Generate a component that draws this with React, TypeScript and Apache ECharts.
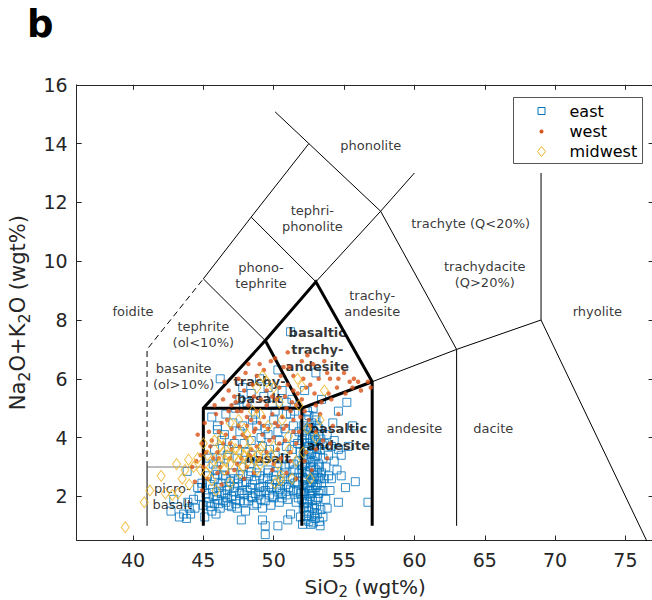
import React, { useEffect, useRef } from "react";
import * as echarts from "echarts";

// ---------- data ----------
const xTicks = [40, 45, 50, 55, 60, 65, 70, 75];
const yTicks = [2, 4, 6, 8, 10, 12, 14, 16];

const eastPts: number[][] = [
  [45.2,2.1],[45.4,1.8],[45.5,2.4],[45.7,2.0],[45.8,2.6],[46.0,1.9],[46.1,2.3],[46.3,2.1],[46.4,2.7],[46.6,1.8],
  [46.7,2.2],[46.9,2.5],[47.0,2.0],[47.2,2.3],[47.3,1.9],[47.5,2.6],[47.6,2.1],[47.8,2.4],[47.9,1.8],[48.1,2.2],
  [48.2,2.7],[48.4,2.0],[48.5,2.4],[48.7,2.1],[48.8,2.8],[49.0,2.3],[49.1,1.9],[49.3,2.6],[49.4,2.2],[49.6,2.9],
  [49.7,2.4],[49.9,2.0],[50.0,2.7],[50.2,2.3],[50.3,3.0],[50.5,2.5],[50.6,2.1],[50.8,2.8],[50.9,2.4],[51.1,3.1],
  [51.2,2.6],[51.4,2.2],[51.5,2.9],[51.7,2.5],[51.8,3.2],[45.3,2.7],[45.9,2.9],[46.5,3.0],[47.1,2.8],[47.7,3.0],
  [48.3,3.1],[48.9,3.2],[49.5,3.3],[50.1,3.4],[50.7,3.3],[51.3,3.6],[46.2,1.6],[46.8,1.7],[47.4,1.6],[48.0,1.5],
  [48.6,1.7],[49.2,1.6],[49.8,1.7],[50.4,1.8],[51.0,1.9],[51.6,1.8],[45.0,1.7],[44.7,2.0],[44.4,1.6],[44.1,1.4],
  [43.6,1.4],[43.3,1.3],[43.9,1.8],[42.7,1.5],[42.9,1.9],[45.6,1.5],[45.9,1.4],[47.7,1.2],[49.4,0.7],[49.4,1.0],
  [49.2,1.2],[50.3,1.0],[51.2,1.4],[51.0,1.2],[52.8,1.1],[52.5,1.15],
  [51.9,1.3],[52.1,1.6],[52.3,1.2],[52.5,1.5],[52.7,1.3],[52.9,1.6],[53.1,1.4],[52.0,1.9],[52.2,2.1],[52.4,1.8],
  [52.6,2.0],[52.8,2.2],[53.0,1.9],[53.2,2.1],[52.1,2.4],[52.3,2.6],[52.5,2.3],[52.7,2.5],[52.9,2.7],[53.1,2.4],
  [53.3,2.6],[52.0,2.9],[52.2,3.1],[52.4,2.8],[52.6,3.0],[52.8,3.2],[53.0,2.9],[53.2,3.1],[53.4,2.8],[52.1,3.4],
  [52.3,3.6],[52.5,3.3],[52.7,3.5],[52.9,3.7],[53.1,3.4],[53.3,3.6],[52.0,3.9],[52.2,4.1],[52.4,3.8],[52.6,4.0],
  [52.8,4.2],[53.0,3.9],[53.2,4.1],[52.1,4.4],[52.3,4.6],[52.5,4.3],[52.7,4.5],[52.9,4.7],[53.1,4.4],[52.4,4.9],
  [52.8,5.0],[51.8,4.2],[51.7,3.8],[51.9,3.5],[51.8,2.8],[51.9,2.1],[53.5,2.2],[53.6,3.8],[53.7,3.0],[53.9,3.4],
  [54.1,2.6],[54.3,3.9],[54.5,2.9],[54.8,3.4],[55.1,2.3],[55.3,3.7],[54.6,1.8],[53.8,1.6],[54.2,4.5],[55.6,4.4],
  [55.8,2.5],[56.7,1.8],[53.5,1.3],[53.3,1.0],
  [45.4,3.3],[45.8,3.6],[46.3,3.9],[46.7,3.4],[47.2,3.8],[47.6,4.2],[48.0,3.5],[48.4,3.9],[48.8,4.4],[49.2,3.7],
  [49.6,4.1],[50.0,4.6],[50.4,3.9],[50.8,4.3],[51.2,4.8],[51.5,4.0],[46.0,4.4],[46.6,4.8],[47.3,5.0],[48.1,5.2],
  [48.7,4.8],[49.3,5.4],[49.9,5.1],[50.6,5.6],[51.3,5.3],[47.8,5.7],[49.0,6.0],[50.3,6.3],[51.2,7.6],[46.2,6.0],
  [45.6,4.7],[53.4,5.3],[54.6,4.9],[55.2,5.2],[53.0,6.2],[52.2,5.6],
  [52.05,1.05],[52.35,1.35],[52.65,1.05],[52.95,1.25],[53.25,1.15],[52.15,1.75],[52.45,1.65],[52.75,1.85],[53.05,1.7],[53.35,1.55],
  [52.1,2.15],[52.4,2.35],[52.7,2.1],[53.0,2.3],[53.3,2.2],[52.2,2.55],[52.5,2.75],[52.8,2.6],[53.1,2.8],[53.4,2.45],
  [52.05,3.05],[52.35,3.25],[52.65,3.15],[52.95,3.35],[53.25,3.0],[52.15,3.55],[52.45,3.7],[52.75,3.85],[53.05,3.6],[53.35,3.95],
  [52.3,4.25],[52.6,4.35],[52.9,4.05],[53.2,4.3],[52.5,4.75],[53.0,4.6],[52.2,3.95],[52.6,2.45],[52.9,1.45],[53.2,2.65],
  [53.5,3.3],[53.6,2.6],[53.8,4.1],[53.7,1.9],[54.0,2.2],[54.3,3.2],[54.1,3.7],[53.9,2.7],[54.6,3.6],[54.8,2.7],
  [52.85,3.0],[52.55,2.2],[52.25,2.85],[52.95,3.95],[53.15,1.95],[52.35,1.9],[52.65,3.45],[53.45,3.75],[52.75,1.6],[52.05,2.65],
  [45.35,1.95],[45.65,2.25],[45.95,2.15],[46.25,2.45],[46.55,2.05],[46.85,2.35],[47.15,2.15],[47.45,2.45],[47.75,2.2],[48.05,2.5],
  [48.35,2.3],[48.65,2.55],[48.95,2.05],[49.25,2.35],[49.55,2.6],[49.85,2.3],[50.15,2.55],[50.45,2.25],[50.75,2.6],[51.05,2.3],
  [51.35,2.65],[51.65,2.15],[45.5,1.65],[45.8,1.75],[46.1,1.75],[46.4,1.85],[46.7,1.95],[47.0,1.65],[47.3,1.75],[47.6,1.85],
  [47.9,2.05],[48.2,1.85],[48.5,1.95],[48.8,1.75],[49.1,2.15],[49.4,1.85],[49.7,2.05],[50.0,1.95],[50.3,2.15],[50.6,1.95],
  [50.9,2.05],[51.2,2.25],[51.5,2.45],[51.75,1.95],[46.0,2.75],[46.6,2.6],[47.2,2.6],[47.8,2.75],[48.4,2.85],[49.0,2.7],
  [49.6,2.8],[50.2,2.85],[50.8,3.0],[51.4,3.1],[44.9,2.45],[44.6,2.3],[44.3,1.9],[44.0,1.6],[43.8,1.25],[45.1,1.3],
  [43.85,2.85],[44.9,2.3],
  [45.7,3.1],[46.2,3.3],[46.8,3.6],[47.4,3.3],[47.9,3.8],[48.5,3.4],[49.1,4.0],[49.7,3.6],[50.3,4.2],[50.9,3.7],
  [51.4,4.4],[46.5,4.1],[47.1,4.5],[47.8,4.4],[48.5,4.6],[49.4,4.3],[50.1,4.9],[50.9,4.8],[51.5,4.9],[46.0,4.27],
  [49.6,5.7],[48.4,5.5],[47.6,5.3],[50.9,5.2]
];

const westPts: number[][] = [
  [49.8,6.6],[50.7,6.4],[51.4,6.1],[52.1,6.0],[52.6,5.8],[53.2,6.0],[54.0,6.0],[54.6,6.0],[55.7,6.0],[56.7,5.9],
  [56.9,5.7],[55.1,5.5],[54.1,5.3],[53.4,5.2],[53.0,5.1],[52.2,4.9],[51.9,4.7],[52.5,4.6],[53.0,4.2],[51.4,4.2],
  [50.7,4.3],[50.4,3.8],[51.2,3.5],[50.1,4.5],[49.3,4.7],[48.8,4.9],[49.3,6.3],[48.8,6.1],[47.9,5.6],[47.0,5.1],
  [47.4,4.9],[48.1,4.7],[46.7,4.6],[46.1,4.2],[45.5,3.7],[44.8,3.4],[44.4,2.5],[45.0,3.0],[45.7,3.3],[46.2,3.0],
  [46.7,2.8],[47.4,3.1],[47.9,2.6],[48.3,3.4],[48.8,3.7],[49.5,3.5],[50.0,4.0],[50.5,3.3],[50.9,2.8],[49.3,4.4],
  [48.6,4.2],[47.6,3.7],[46.9,3.3],[46.0,2.8],[45.3,2.6],[50.2,5.3],[50.9,5.0],[51.4,4.6],[47.2,5.4],[46.8,5.6],
  [49.5,5.1],[50.5,6.1],[51.4,5.6],[53.5,3.9],[54.2,4.4],[53.8,3.3],[54.6,4.8],[52.4,6.8],[51.0,6.9],[53.6,6.6],
  [55.0,6.2],[52.8,6.5],[48.2,6.5],[47.5,6.0],[44.6,4.1],[45.1,4.5],[44.2,3.0],[45.8,5.1],[46.4,5.3],[48.5,5.8],
  [51.0,5.8],[52.0,5.3],[56.2,5.6],[55.6,5.7],[52.3,3.5],[52.7,2.9],[51.6,2.6],[49.9,2.9],[48.1,3.0],[47.0,4.3],
  [48.0,4.0],[44.9,2.2],[46.3,2.4],
  [45.6,3.9],[46.0,3.5],[46.4,3.8],[46.6,4.1],[46.9,3.8],[47.2,4.0],[47.5,4.4],[47.8,4.1],[48.1,4.4],[48.4,4.6],
  [48.7,4.3],[49.0,4.5],[49.2,4.1],[49.6,4.3],[49.9,4.8],[50.3,4.4],[50.6,4.7],[50.9,4.4],[51.2,4.9],[51.6,5.1],
  [46.3,4.5],[46.8,4.9],[47.3,5.2],[47.7,4.9],[48.2,5.1],[48.6,5.4],[49.1,5.3],[49.5,5.6],[49.9,5.4],[50.4,5.7],
  [50.8,5.4],[51.3,5.2],[51.7,5.5],[52.3,5.7],[45.9,4.8],[45.4,4.2],[45.2,3.5],[47.0,3.6],[48.4,3.6],[49.7,3.9],
  [50.8,3.9],[51.8,4.2],[52.6,4.4],[53.3,4.8],[53.9,5.5],[54.5,5.7],[55.4,5.9],[56.0,5.9],[53.8,6.2],[52.9,5.5],
  [48.0,6.2],[49.0,6.5],[50.1,6.7],[51.1,6.4],[52.0,6.6],[46.5,5.9],[44.9,3.8],[44.5,3.2],[47.7,3.3],[49.0,3.3],
  [50.3,3.6],[51.6,3.8],[46.1,3.3],[47.2,2.9],[48.6,2.8],[50.0,3.1],[51.2,3.2],[52.2,3.2],[53.0,3.6],[54.0,3.8]
];

const midwestPts: number[][] = [
  [39.45,0.95],[40.8,1.8],[41.2,2.2],[43.1,3.1],[43.95,3.25],[43.2,2.1],[42.8,2.05],[42.3,2.1],[45.3,3.4],[45.8,3.9],
  [46.4,3.5],[47.0,3.7],[47.2,3.35],[47.6,3.5],[48.1,3.6],[48.6,3.25],[45.6,2.55],[46.9,2.45],[49.05,3.1],[50.0,3.7],
  [50.5,2.55],[49.5,3.25],[49.05,4.8],[48.1,4.1],[46.9,4.5],[48.8,5.7],[49.5,5.9],[50.0,5.7],[46.1,3.1],[44.8,2.9],
  [52.0,5.75],[53.3,4.6],[50.1,2.45],[50.5,2.7],[51.05,4.05],[52.1,3.5],[49.05,3.6],[44.3,3.0],[46.6,3.2],[47.8,3.0],
  [48.3,3.9],[51.6,3.2],[52.6,2.6],[53.0,4.0],[50.4,5.2],[47.5,4.6],[45.9,2.2],[44.0,2.4],[42.0,2.7],[43.5,2.6],
  [45.9,3.3],[46.2,3.7],[46.7,3.4],[46.9,3.1],[47.3,3.6],[47.5,3.2],[47.9,3.4],[48.2,3.2],[48.4,3.5],[48.9,3.4],
  [49.2,3.7],[49.8,3.4],[45.5,3.0],[45.2,2.8],[46.5,2.9],[47.6,2.8],[48.8,2.9],[50.3,3.1],[51.1,3.6],[51.3,2.6],
  [47.9,4.3],[49.6,4.4],[50.6,4.6],[51.8,5.1],[46.3,4.0],[45.0,3.8],[43.7,2.9],[44.6,3.3],[52.4,4.3],[53.6,5.6],
  [51.7,6.0],[49.2,6.1],[48.5,4.9]
];

// TAS field boundaries (SiO2, Na2O+K2O)
const thinBoundaries: number[][][] = [
  [[41,1],[41,3]],
  [[45,9.4],[48.4,11.5],[52.5,14]],
  [[50.1,15.08],[52.5,14],[57.6,11.7],[63,7],[63,1]],
  [[45,9.4],[49.4,7.3]],
  [[48.4,11.5],[53,9.3],[57.6,11.7],[60,13]],
  [[57,5.9],[63,7],[69,8],[77,0]],
  [[69,8],[69,13]]
];
const greyBoundaries: number[][][] = [
  [[41,3],[45,3]]
];
const dashedBoundaries: number[][][] = [
  [[41,3],[41,7],[45,9.4]]
];
const thickBoundaries: number[][][] = [
  [[45,1],[45,5],[49.4,7.3],[53,9.3],[57,5.9],[57,1]],
  [[45,5],[52,5],[57,5.9]],
  [[52,1],[52,5]],
  [[49.4,7.3],[52,5]]
];

const regionLabels: [string, number, number, boolean][] = [
  ["phonolite", 56.9, 13.95, false],
  ["tephri-\nphonolite", 52.75, 11.45, false],
  ["phono-\ntephrite", 49.1, 9.5, false],
  ["foidite", 40.0, 8.28, false],
  ["tephrite\n(ol<10%)", 45.0, 7.5, false],
  ["basanite\n(ol>10%)", 43.6, 6.07, false],
  ["picro-\nbasalt", 42.8, 1.99, false],
  ["trachy-\nbasalt", 49.0, 5.63, true],
  ["basaltic\ntrachy-\nandesite", 53.1, 6.98, true],
  ["basaltic\nandesite", 54.6, 4.03, true],
  ["basalt", 49.6, 3.3, true],
  ["andesite", 60.0, 4.3, false],
  ["dacite", 65.6, 4.3, false],
  ["trachy-\nandesite", 57.0, 8.57, false],
  ["trachyte (Q<20%)", 64.0, 11.27, false],
  ["trachydacite\n(Q>20%)", 65.0, 9.54, false],
  ["rhyolite", 73.0, 8.28, false]
];

const seriesNames = ["east", "west", "midwest"];
const seriesColors = ["#0072BD", "#D95319", "#EDB120"];

const FONT = "DejaVu Sans";
const AXIS_COLOR = "#262626";

export default function App() {
  const ref = useRef<HTMLDivElement>(null);
  useEffect(() => {
    if (!ref.current) return;
    const chart = echarts.init(ref.current, undefined, { renderer: "svg" });

    const lineSeries = (segs: number[][][], style: any, z: number) =>
      segs.map((seg) => ({
        type: "line",
        data: seg,
        symbol: "none",
        showSymbol: false,
        silent: true,
        clip: true,
        z,
        lineStyle: style,
        xAxisIndex: 0,
        yAxisIndex: 0,
      }));

    const axisCommon = {
      type: "value",
      axisLine: { show: true, onZero: false, lineStyle: { color: AXIS_COLOR, width: 1 } },
      axisTick: { show: true, inside: true, length: 5, lineStyle: { color: AXIS_COLOR, width: 1 } },
      splitLine: { show: false },
    };

    const subRich = { s: { fontSize: 15, lineHeight: 15, verticalAlign: "bottom", fontFamily: FONT, color: AXIS_COLOR } };

    const option: any = {
      animation: false,
      textStyle: { fontFamily: FONT },
      grid: {
        left: 76.7,
        right: -1.6,
        top: 84.8,
        bottom: 59.5,
        containLabel: false,
        outerBoundsMode: "none",
      },
      xAxis: [
        {
          ...axisCommon,
          min: 36,
          max: 77,
          position: "bottom",
          axisTick: { ...axisCommon.axisTick, customValues: xTicks },
          axisLabel: { customValues: xTicks, fontSize: 19, color: AXIS_COLOR, margin: 10, fontFamily: FONT },
          name: "SiO{s|2} (wgt%)",
          nameLocation: "middle",
          nameGap: 20,
          nameTextStyle: { fontSize: 20, lineHeight: 25, color: AXIS_COLOR, fontFamily: FONT, rich: subRich },
        },
        {
          ...axisCommon,
          min: 36,
          max: 77,
          position: "top",
          axisTick: { ...axisCommon.axisTick, customValues: xTicks },
          axisLabel: { show: false },
        },
      ],
      yAxis: [
        {
          ...axisCommon,
          min: 0.5,
          max: 16,
          position: "left",
          axisTick: { ...axisCommon.axisTick, customValues: yTicks },
          axisLabel: { customValues: yTicks, fontSize: 19, color: AXIS_COLOR, margin: 9, fontFamily: FONT },
          name: "Na{s|2}O+K{s|2}O (wgt%)",
          nameLocation: "middle",
          nameGap: 36,
          nameTextStyle: {
            fontSize: 21,
            lineHeight: 29,
            color: AXIS_COLOR,
            fontFamily: FONT,
            rich: { s: { ...subRich.s, fontSize: 16, lineHeight: 16 } },
          },
        },
        {
          ...axisCommon,
          min: 0.5,
          max: 16,
          position: "right",
          axisTick: { ...axisCommon.axisTick, customValues: yTicks },
          axisLabel: { show: false },
        },
      ],
      series: [
        {
          name: seriesNames[0],
          type: "scatter",
          data: eastPts,
          symbol: "rect",
          symbolSize: 8,
          z: 2,
          itemStyle: { color: "rgba(0,0,0,0)", borderColor: seriesColors[0], borderWidth: 1 },
          silent: true,
        },
        ...lineSeries(thinBoundaries, { color: "#000", width: 1 }, 3),
        ...lineSeries(greyBoundaries, { color: "#777", width: 1 }, 3),
        ...lineSeries(dashedBoundaries, { color: "#000", width: 1, type: [6, 4] }, 3),
        ...lineSeries(thickBoundaries, { color: "#000", width: 3, join: "miter" }, 3),
        {
          type: "scatter",
          data: regionLabels.map(([t, x, y, b]) => ({
            value: [x, y],
            name: t,
            label: { fontWeight: b ? "bold" : "normal", lineHeight: b ? 17 : 16 },
          })),
          symbol: "circle",
          symbolSize: 1,
          itemStyle: { color: "rgba(0,0,0,0)" },
          silent: true,
          z: 4,
          label: {
            show: true,
            position: "inside",
            formatter: "{b}",
            fontSize: 13,
            color: "#000",
            fontFamily: FONT,
            align: "center",
            verticalAlign: "middle",
          },
        },
        {
          name: seriesNames[1],
          type: "scatter",
          data: westPts,
          symbol: "circle",
          symbolSize: 4.5,
          z: 5,
          itemStyle: { color: seriesColors[1] },
          silent: true,
        },
        {
          name: seriesNames[2],
          type: "scatter",
          data: midwestPts,
          symbol: "diamond",
          symbolSize: [8, 11],
          z: 6,
          itemStyle: { color: "rgba(0,0,0,0)", borderColor: seriesColors[2], borderWidth: 1 },
          silent: true,
        },
      ],
      graphic: [
        {
          type: "text",
          left: 27,
          top: 6,
          style: { text: "b", fontSize: 37, fontWeight: "bold", fontFamily: FONT, fill: "#000" },
        },
        {
          type: "group",
          left: 513,
          top: 97,
          z: 100,
          children: [
            { type: "rect", shape: { x: 0, y: 0, width: 129, height: 66 }, style: { fill: "#fff", stroke: "#555", lineWidth: 1 } },
            { type: "rect", shape: { x: 24.5, y: 10, width: 7, height: 7 }, style: { fill: "none", stroke: seriesColors[0], lineWidth: 1 } },
            { type: "circle", shape: { cx: 28, cy: 34, r: 2 }, style: { fill: seriesColors[1] } },
            { type: "polygon", shape: { points: [[28, 49], [32, 54], [28, 59], [24, 54]] }, style: { fill: "none", stroke: seriesColors[2], lineWidth: 1 } },
            { type: "text", x: 56, y: 13.5, style: { text: seriesNames[0], fontSize: 16, fontFamily: FONT, fill: "#000", verticalAlign: "middle" } },
            { type: "text", x: 56, y: 34, style: { text: seriesNames[1], fontSize: 16, fontFamily: FONT, fill: "#000", verticalAlign: "middle" } },
            { type: "text", x: 56, y: 54, style: { text: seriesNames[2], fontSize: 16, fontFamily: FONT, fill: "#000", verticalAlign: "middle" } },
          ],
        },
      ],
    };

    chart.setOption(option);
    return () => chart.dispose();
  }, []);

  return (
    <div
      ref={ref}
      style={{ position: "absolute", left: 0, top: 0, width: 652, height: 600, background: "#fff" }}
    />
  );
}
